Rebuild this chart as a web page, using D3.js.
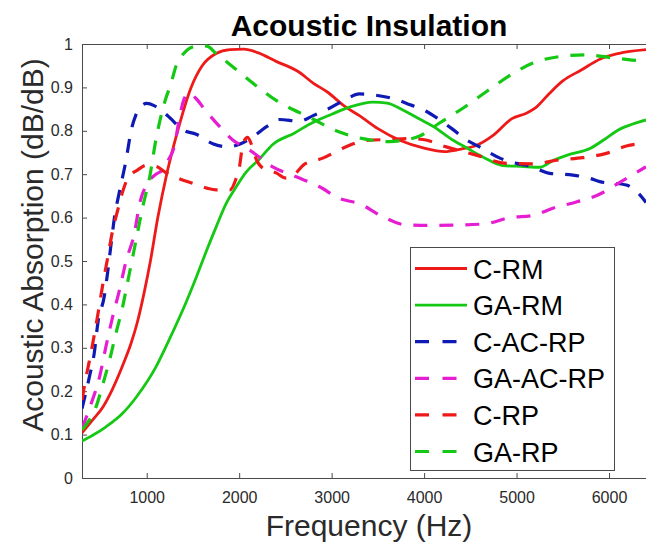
<!DOCTYPE html>
<html>
<head>
<meta charset="utf-8">
<script src="https://cdn.jsdelivr.net/npm/d3@7"></script>
<style>
  html, body { margin: 0; padding: 0; background: #fff; }
  svg { display: block; font-family: "Liberation Sans", Arial, Helvetica, sans-serif; }
</style>
</head>
<body>
<svg id="chart" width="646" height="549"></svg>
<script>
// Absorption curves, [frequency Hz, absorption]
const cRM = [[300,0.104],[420,0.135],[530,0.165],[630,0.205],[760,0.27],[830,0.31],[900,0.36],[975,0.43],[1040,0.50],[1120,0.60],[1216,0.70],[1335,0.80],[1480,0.90],[1600,0.95],[1750,0.978],[1900,0.987],[2050,0.988],[2200,0.98],[2400,0.96],[2650,0.935],[2800,0.91],[2950,0.89],[3150,0.855],[3300,0.835],[3500,0.805],[3750,0.777],[4000,0.760],[4220,0.752],[4400,0.758],[4550,0.765],[4750,0.79],[4950,0.828],[5100,0.84],[5200,0.852],[5350,0.885],[5500,0.915],[5700,0.94],[5900,0.965],[6100,0.978],[6400,0.987]];
const gaRM = [[300,0.085],[420,0.099],[560,0.118],[740,0.149],[900,0.19],[1100,0.256],[1246,0.32],[1426,0.405],[1535,0.462],[1640,0.52],[1750,0.578],[1860,0.633],[1950,0.665],[2075,0.705],[2220,0.735],[2360,0.768],[2600,0.795],[2760,0.815],[3000,0.838],[3200,0.855],[3450,0.866],[3600,0.864],[3770,0.848],[3950,0.827],[4100,0.81],[4300,0.78],[4450,0.762],[4650,0.738],[4850,0.72],[5050,0.718],[5250,0.716],[5400,0.732],[5550,0.744],[5800,0.760],[5950,0.78],[6100,0.802],[6250,0.815],[6400,0.825]];
const cACRP = [[300,0.16],[380,0.233],[434,0.29],[470,0.355],[542,0.42],[578,0.475],[615,0.54],[651,0.60],[700,0.655],[777,0.733],[831,0.80],[880,0.835],[921,0.852],[1000,0.863],[1080,0.858],[1170,0.845],[1250,0.83],[1390,0.802],[1535,0.792],[1714,0.77],[1876,0.763],[2003,0.769],[2147,0.786],[2300,0.81],[2436,0.826],[2650,0.822],[2800,0.835],[2977,0.852],[3150,0.872],[3300,0.885],[3480,0.882],[3650,0.875],[3850,0.86],[4023,0.845],[4150,0.828],[4300,0.805],[4450,0.78],[4600,0.763],[4820,0.737],[5000,0.725],[5150,0.718],[5357,0.702],[5609,0.698],[5800,0.69],[5900,0.683],[6187,0.675],[6300,0.66],[6400,0.635]];
const gaACRP = [[300,0.114],[400,0.172],[490,0.233],[561,0.305],[632,0.372],[705,0.433],[777,0.50],[867,0.564],[921,0.63],[1011,0.68],[1100,0.70],[1173,0.71],[1240,0.735],[1300,0.765],[1354,0.83],[1408,0.875],[1462,0.887],[1530,0.875],[1643,0.845],[1787,0.81],[1931,0.779],[2111,0.756],[2363,0.717],[2617,0.694],[2869,0.671],[3085,0.644],[3300,0.632],[3554,0.602],[3807,0.583],[4059,0.582],[4400,0.583],[4672,0.586],[4924,0.600],[5177,0.605],[5400,0.622],[5646,0.636],[5880,0.652],[6130,0.683],[6400,0.717]];
const cRP = [[300,0.18],[344,0.233],[380,0.27],[416,0.31],[470,0.375],[524,0.445],[580,0.51],[632,0.571],[686,0.617],[740,0.66],[794,0.69],[903,0.71],[1000,0.721],[1102,0.718],[1210,0.703],[1350,0.69],[1498,0.679],[1650,0.668],[1751,0.664],[1900,0.664],[1967,0.69],[2003,0.717],[2039,0.768],[2090,0.785],[2130,0.77],[2184,0.735],[2256,0.714],[2400,0.703],[2508,0.691],[2600,0.70],[2700,0.722],[2904,0.737],[3121,0.76],[3374,0.778],[3626,0.78],[3842,0.782],[3987,0.78],[4240,0.763],[4564,0.744],[4889,0.725],[5177,0.724],[5465,0.733],[5717,0.738],[5971,0.748],[6187,0.765],[6400,0.771]];
const gaRP = [[300,0.111],[380,0.134],[452,0.164],[524,0.215],[596,0.27],[669,0.335],[740,0.395],[794,0.452],[849,0.51],[903,0.568],[957,0.625],[1029,0.69],[1100,0.78],[1200,0.87],[1264,0.91],[1318,0.95],[1400,0.978],[1462,0.99],[1560,0.996],[1650,0.995],[1751,0.978],[1870,0.958],[2003,0.935],[2219,0.898],[2400,0.87],[2508,0.857],[2760,0.831],[3049,0.80],[3337,0.782],[3626,0.775],[3770,0.778],[3951,0.788],[4167,0.818],[4419,0.852],[4672,0.89],[4924,0.927],[5177,0.956],[5465,0.971],[5754,0.975],[6042,0.968],[6250,0.963],[6400,0.96]];

const seriesNames = ["C-RM", "GA-RM", "C-AC-RP", "GA-AC-RP", "C-RP", "GA-RP"];
const seriesData = [cRM, gaRM, cACRP, gaACRP, cRP, gaRP];
const seriesColors = ["#ee1a1a", "#14c814", "#0f1ab4", "#e61ed2", "#ee1a1a", "#14c814"];
const seriesDashed = [false, false, true, true, true, true];

const xTicks = [1000, 2000, 3000, 4000, 5000, 6000];
const yTicks = [0, 0.1, 0.2, 0.3, 0.4, 0.5, 0.6, 0.7, 0.8, 0.9, 1];

const svg = d3.select("#chart");
const plot = { left: 82, top: 44, right: 646, bottom: 478 };

const x = d3.scaleLinear().domain([300, 6400]).range([plot.left, plot.right]);
const y = d3.scaleLinear().domain([0, 1]).range([plot.bottom, plot.top]);

const axisColor = "#4a4a4a";
const textColor = "#2a2a2a";

svg.append("defs").append("clipPath").attr("id", "plotClip")
  .append("rect")
  .attr("x", plot.left).attr("y", plot.top - 2)
  .attr("width", plot.right - plot.left).attr("height", plot.bottom - plot.top + 2);

// Bottom axis with inward ticks
const xAxis = svg.append("g")
  .attr("transform", `translate(0,${plot.bottom})`)
  .call(d3.axisBottom(x).tickValues(xTicks).tickSizeInner(-5).tickSizeOuter(0).tickPadding(14).tickFormat(d3.format("d")));
// Left axis with inward ticks
const yAxis = svg.append("g")
  .attr("transform", `translate(${plot.left},0)`)
  .call(d3.axisLeft(y).tickValues(yTicks).tickSizeInner(-5).tickSizeOuter(0).tickPadding(9).tickFormat(d => d === 0 || d === 1 ? d3.format("d")(d) : d3.format(".1f")(d)));
// Top axis: box edge with ticks, no labels
const xTop = svg.append("g")
  .attr("transform", `translate(0,${plot.top})`)
  .call(d3.axisTop(x).tickValues(xTicks).tickSizeInner(-5).tickSizeOuter(0).tickFormat(""));

[xAxis, yAxis, xTop].forEach(g => {
  g.select(".domain").attr("stroke", axisColor).attr("stroke-width", 1);
  g.selectAll(".tick line").attr("stroke", axisColor).attr("stroke-width", 1);
  g.selectAll(".tick text").attr("fill", textColor).style("font-size", "16px")
    .style("font-family", "'Liberation Sans', Arial, sans-serif");
});

// Curves
const line = d3.line()
  .x(d => x(d[0]))
  .y(d => y(d[1]))
  .curve(d3.curveMonotoneX);

const curves = svg.append("g").attr("clip-path", "url(#plotClip)");
seriesData.forEach((data, i) => {
  curves.append("path")
    .datum(data)
    .attr("fill", "none")
    .attr("stroke", seriesColors[i])
    .attr("stroke-width", seriesDashed[i] ? 3.2 : 2.8)
    .attr("stroke-dasharray", seriesDashed[i] ? "14,12" : null)
    .attr("stroke-linejoin", "round")
    .attr("d", line);
});

// Title and axis labels
svg.append("text")
  .attr("x", 369).attr("y", 36)
  .attr("text-anchor", "middle")
  .style("font-size", "30px").style("font-weight", "bold")
  .attr("fill", "#000")
  .text("Acoustic Insulation");

svg.append("text")
  .attr("x", 369).attr("y", 536)
  .attr("text-anchor", "middle")
  .style("font-size", "30px")
  .attr("fill", textColor)
  .text("Frequency (Hz)");

svg.append("text")
  .attr("transform", `translate(43,245) rotate(-90)`)
  .attr("text-anchor", "middle")
  .style("font-size", "30px")
  .attr("fill", textColor)
  .text("Acoustic Absorption (dB/dB)");

// Legend
const legend = svg.append("g");
legend.append("rect")
  .attr("x", 410.5).attr("y", 247.5)
  .attr("width", 204).attr("height", 223)
  .attr("fill", "#fff").attr("stroke", axisColor).attr("stroke-width", 1);

const rowY = d3.scaleLinear().domain([0, 5]).range([268.5, 451.5]);
seriesNames.forEach((name, i) => {
  const yy = rowY(i);
  legend.append("line")
    .attr("x1", 415).attr("x2", 467)
    .attr("y1", yy).attr("y2", yy)
    .attr("stroke", seriesColors[i])
    .attr("stroke-width", seriesDashed[i] ? 3.2 : 2.8)
    .attr("stroke-dasharray", seriesDashed[i] ? "14,13.5" : null);
  legend.append("text")
    .attr("x", 473).attr("y", yy + 10)
    .style("font-size", "27px")
    .attr("fill", "#000")
    .text(name);
});
</script>
</body>
</html>
